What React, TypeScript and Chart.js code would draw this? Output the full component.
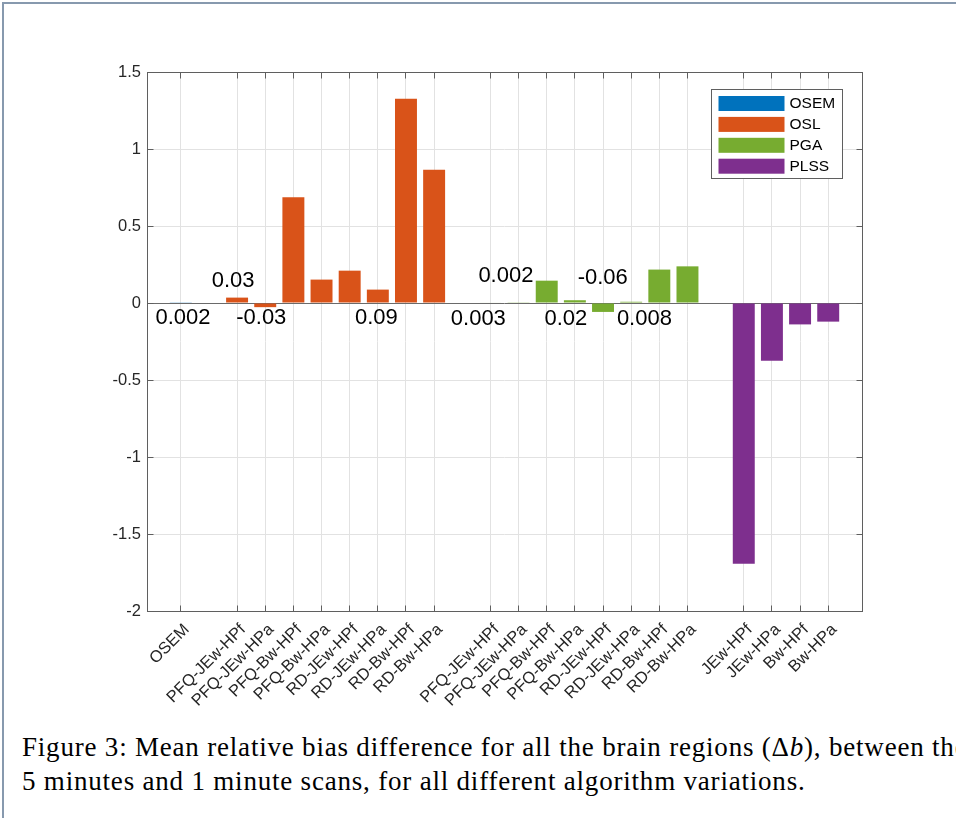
import React, { useEffect, useRef } from 'react';
import { Chart, registerables } from 'chart.js';

Chart.register(...registerables);

// ---------- data ----------
const seriesNames = ['OSEM', 'OSL', 'PGA', 'PLSS'];
const seriesColors = ['#0072BD', '#D95319', '#77AC30', '#7E2F8E'];

const osemLabels = ['OSEM'];
const oslLabels = ['PFQ-JEw-HPf', 'PFQ-JEw-HPa', 'PFQ-Bw-HPf', 'PFQ-Bw-HPa', 'RD-JEw-HPf', 'RD-JEw-HPa', 'RD-Bw-HPf', 'RD-Bw-HPa'];
const pgaLabels = ['PFQ-JEw-HPf', 'PFQ-JEw-HPa', 'PFQ-Bw-HPf', 'PFQ-Bw-HPa', 'RD-JEw-HPf', 'RD-JEw-HPa', 'RD-Bw-HPf', 'RD-Bw-HPa'];
const plssLabels = ['JEw-HPf', 'JEw-HPa', 'Bw-HPf', 'Bw-HPa'];

const osemValues = [0.002];
const oslValues = [0.035, -0.027, 0.687, 0.152, 0.21, 0.087, 1.327, 0.865];
const pgaValues = [0.003, 0.002, 0.145, 0.018, -0.058, 0.008, 0.217, 0.238];
const plssValues = [-1.693, -0.375, -0.139, -0.121];

const yMin = -2;
const yMax = 1.5;
const yStep = 0.5;

// text annotations (value text, x in category units, y in data units)
const annotationTexts = ['0.002', '0.03', '-0.03', '0.09', '0.003', '0.002', '0.02', '-0.06', '0.008'];
const annotationX = [0.08, 1.86, 2.86, 6.95, 10.57, 11.55, 13.68, 14.99, 16.47];
const annotationY = [-0.097, 0.141, -0.097, -0.097, -0.106, 0.175, -0.106, 0.16, -0.106];

const captionLine1 = 'Figure 3: Mean relative bias difference for all the brain regions (\u0394';
const captionLine1b = '), between the';
const captionLine2 = '5 minutes and 1 minute scans, for all different algorithm variations.';

// ---------- derived ----------
const groupLabels = [osemLabels, oslLabels, pgaLabels, plssLabels];
const groupValues = [osemValues, oslValues, pgaValues, plssValues];
const groupPositions: number[][] = [];
{
  let start = 0;
  groupLabels.forEach((g) => {
    groupPositions.push(g.map((_, i) => start + i));
    start += g.length + 1;
  });
}
const tickPositions = groupPositions.flat();
const tickLabels = groupLabels.flat();
const xMin = -1.2;
const xMax = tickPositions[tickPositions.length - 1] + 1.2;

const FONT = '"Liberation Sans", Arial, Helvetica, sans-serif';
const TEXT = '#262626';

const align = (p: number) => Math.round(p - 0.5) + 0.5;

const matlabPlugin = {
  id: 'matlabBox',
  afterDatasetsDraw(chart: any) {
    const { ctx, chartArea: a, scales } = chart;
    const x = scales.x;
    const y = scales.y;
    ctx.save();
    // box
    ctx.strokeStyle = '#5f5f5f';
    ctx.lineWidth = 1;
    const L = align(a.left), R = align(a.right), T = align(a.top), B = align(a.bottom);
    ctx.strokeRect(L, T, R - L, B - T);
    // inward ticks
    const tl = 6;
    ctx.beginPath();
    x.ticks.forEach((t: any) => {
      const px = align(x.getPixelForValue(t.value));
      ctx.moveTo(px, T);
      ctx.lineTo(px, T + tl);
      ctx.moveTo(px, B);
      ctx.lineTo(px, B - tl);
    });
    y.ticks.forEach((t: any) => {
      const py = align(y.getPixelForValue(t.value));
      ctx.moveTo(L, py);
      ctx.lineTo(L + tl, py);
      ctx.moveTo(R, py);
      ctx.lineTo(R - tl, py);
    });
    ctx.stroke();

    // annotations
    ctx.font = `22px ${FONT}`;
    ctx.fillStyle = '#000';
    ctx.textAlign = 'center';
    ctx.textBaseline = 'middle';
    annotationTexts.forEach((s, i) => {
      ctx.fillText(s, x.getPixelForValue(annotationX[i]), y.getPixelForValue(annotationY[i]));
    });

    // legend
    const bw = 131, bh = 89;
    const bx = Math.round(a.right - 20 - bw) + 0.5;
    const by = Math.round(a.top + 17) + 0.5;
    ctx.fillStyle = '#fff';
    ctx.fillRect(bx, by, bw, bh);
    ctx.strokeStyle = '#5f5f5f';
    ctx.strokeRect(bx, by, bw, bh);
    ctx.font = `15.5px ${FONT}`;
    ctx.textAlign = 'left';
    ctx.textBaseline = 'middle';
    seriesNames.forEach((name, i) => {
      const sy = by + 6.5 + i * 20.9;
      ctx.fillStyle = seriesColors[i];
      ctx.fillRect(bx + 7, sy, 66, 15);
      ctx.fillStyle = '#000';
      ctx.fillText(name, bx + 78, sy + 8);
    });
    ctx.restore();
  },
};

export default function App() {
  const ref = useRef<HTMLCanvasElement | null>(null);

  useEffect(() => {
    if (!ref.current) return;
    const datasets = seriesNames.map((name, s) => ({
      label: name,
      data: groupPositions[s].map((px, i) => ({ x: px, y: groupValues[s][i] })),
      backgroundColor: seriesColors[s],
      borderWidth: 0,
      grouped: false,
      categoryPercentage: 1,
      barPercentage: 0.78,
    }));

    const chart = new Chart(ref.current, {
      type: 'bar',
      data: { datasets },
      options: {
        animation: false,
        responsive: false,
        layout: { padding: { top: 72, right: 94, bottom: 0, left: 0 } },
        plugins: { legend: { display: false }, tooltip: { enabled: false } },
        scales: {
          x: {
            type: 'linear',
            min: xMin,
            max: xMax,
            offset: false,
            grid: {
              offset: false,
              color: '#e2e2e2',
              drawTicks: false,
            },
            border: { display: false },
            afterBuildTicks: (scale: any) => {
              scale.ticks = tickPositions.map((v) => ({ value: v }));
            },
            afterFit: (scale: any) => {
              scale.height = 109;
            },
            ticks: {
              autoSkip: false,
              minRotation: 45,
              maxRotation: 45,
              padding: 9,
              labelOffset: 6,
              color: TEXT,
              font: { family: FONT, size: 16.5 },
              callback: (_v: any, i: number) => tickLabels[i],
            },
          },
          y: {
            type: 'linear',
            min: yMin,
            max: yMax,
            grid: {
              color: (c: any) => (c.tick && c.tick.value === 0 ? '#6a6a6a' : '#e2e2e2'),
              drawTicks: false,
            },
            border: { display: false },
            afterFit: (scale: any) => {
              scale.width = 147;
            },
            ticks: {
              stepSize: yStep,
              padding: 6,
              color: TEXT,
              font: { family: FONT, size: 16.5 },
              callback: (v: any) => String(v),
            },
          },
        },
      },
      plugins: [matlabPlugin],
    } as any);
    return () => chart.destroy();
  }, []);

  const capStyle: React.CSSProperties = {
    position: 'absolute',
    left: 22,
    whiteSpace: 'nowrap',
    fontFamily: '"Liberation Serif", "Times New Roman", serif',
    fontSize: 27,
    letterSpacing: '0.8px',
    lineHeight: '27px',
    color: '#000',
  };

  return (
    <div
      style={{
        position: 'absolute',
        left: 0,
        top: 0,
        width: 956,
        height: 818,
        overflow: 'hidden',
        background: '#fff',
      }}
    >
      <div style={{ position: 'absolute', left: 2, top: 2, width: 954, height: 2, background: '#8799ae' }} />
      <div style={{ position: 'absolute', left: 2, top: 2, width: 2, height: 816, background: '#8799ae' }} />
      <canvas ref={ref} width={956} height={720} style={{ position: 'absolute', left: 0, top: 0 }} />
      <div style={{ ...capStyle, top: 734 }}>
        {captionLine1}
        <i>b</i>
        {captionLine1b}
      </div>
      <div style={{ ...capStyle, top: 768 }}>{captionLine2}</div>
    </div>
  );
}
